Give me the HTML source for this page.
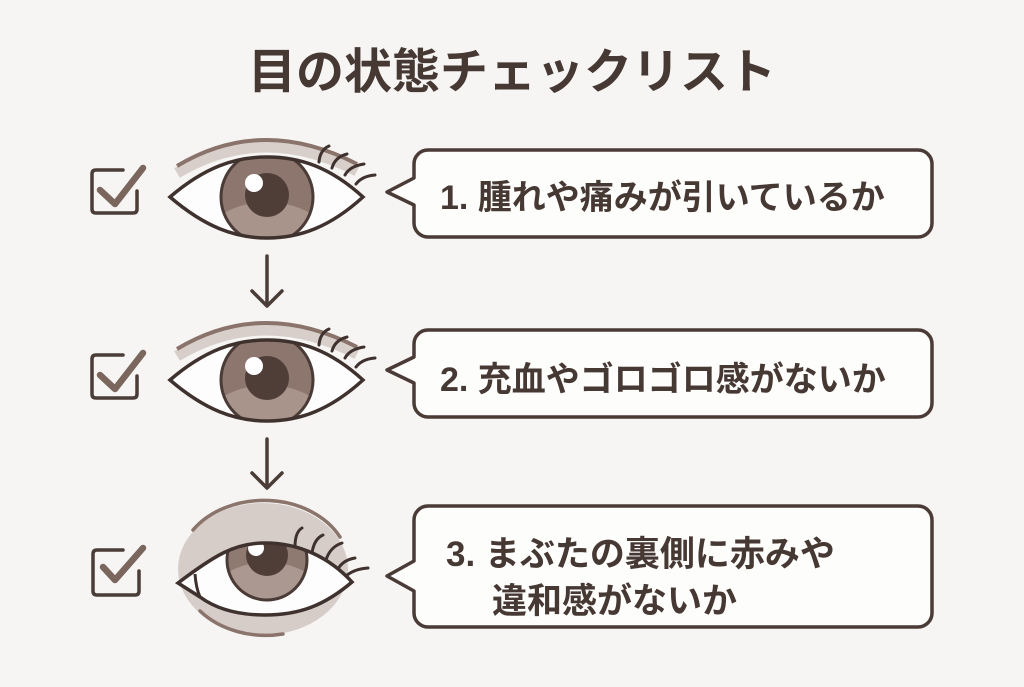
<!DOCTYPE html>
<html>
<head>
<meta charset="utf-8">
<style>
  html,body{margin:0;padding:0;background:#f6f5f3;}
  svg{display:block;}
  text{font-family:"Liberation Sans","Noto Sans CJK JP",sans-serif;font-weight:bold;fill:#463833;}
</style>
</head>
<body>
<svg width="1024" height="687" viewBox="0 0 1024 687" xmlns="http://www.w3.org/2000/svg">
  <defs>
    <clipPath id="alm1">
      <path d="M170,197 C205,167 235,157 267,157 C300,157 330,167 363,197 C330,227 300,238 267,238 C235,238 205,227 170,197 Z"/>
    </clipPath>
    <clipPath id="iris1"><circle cx="267" cy="197" r="46"/></clipPath>
    <clipPath id="alm3">
      <path d="M178,583 C215,555 235,543 265,543 C300,543 330,558 352,582 C325,605 300,615 265,615 C235,615 215,608 200,597 L178,583 Z"/>
    </clipPath>
    <clipPath id="iris3"><circle cx="267" cy="560" r="40"/></clipPath>
    <g id="eyeA">
      <!-- brow band -->
      <path d="M177,173 Q262,122 357,171" fill="none" stroke="#d8cfcb" stroke-width="11"/>
      <path d="M177,166 Q262,115 357,164" fill="none" stroke="#8a736b" stroke-width="4"/>
      <!-- white -->
      <path d="M170,197 C205,167 235,157 267,157 C300,157 330,167 363,197 C330,227 300,238 267,238 C235,238 205,227 170,197 Z" fill="#fdfdfd"/>
      <g clip-path="url(#alm1)">
        <circle cx="267" cy="197" r="46" fill="#8d766e"/>
        <g clip-path="url(#iris1)">
          <circle cx="267" cy="292" r="90" fill="#a9948c"/>
        </g>
        <circle cx="267" cy="197" r="46" fill="none" stroke="#4a3b36" stroke-width="3"/>
        <circle cx="267" cy="195" r="22" fill="#4f3d37"/>
        <circle cx="254" cy="183" r="9" fill="#ffffff"/>
      </g>
      <path d="M170,197 C205,167 235,157 267,157 C300,157 330,167 363,197 C330,227 300,238 267,238 C235,238 205,227 170,197 Z" fill="none" stroke="#3f322e" stroke-width="3.5" stroke-linejoin="miter"/>
      <!-- lashes -->
      <g fill="none" stroke="#3f322e" stroke-width="3" stroke-linecap="round">
        <path d="M319,162 Q320,150 329,146"/>
        <path d="M332,168 Q335,157 347,154"/>
        <path d="M345,175 Q350,166 364,164"/>
        <path d="M356,184 Q362,176 375,175"/>
      </g>
    </g>
  </defs>

  <!-- Title -->
  <text x="512" y="88" text-anchor="middle" font-size="48">目の状態チェックリスト</text>

  <!-- Checkboxes -->
  <g fill="none" stroke="#4a3c37" stroke-width="3.5" stroke-linecap="round" stroke-linejoin="round">
    <path d="M123,170 H96 Q92,170 92,174 V209 Q92,213 96,213 H133 Q137,213 137,209 V191"/>
    <path d="M123,355 H96 Q92,355 92,359 V394 Q92,398 96,398 H133 Q137,398 137,394 V376"/>
    <path d="M123,550 H97 Q93,550 93,554 V591 Q93,595 97,595 H135 Q139,595 139,591 V571"/>
  </g>
  <g fill="none" stroke="#7b665e" stroke-width="6.5" stroke-linecap="round" stroke-linejoin="round">
    <path d="M100,190 L115,204 L143,168"/>
    <path d="M100,375 L115,389 L143,353"/>
    <path d="M103,567 L115,580 L143,548"/>
  </g>

  <!-- Eyes 1 & 2 -->
  <use href="#eyeA"/>
  <use href="#eyeA" transform="translate(0,183)"/>

  <!-- Eye 3 (puffy) -->
  <ellipse cx="263" cy="569" rx="85" ry="66" fill="#d6ccc8"/>
  <path d="M193,530 A85,66 0 0 1 340,537" fill="none" stroke="#8b746c" stroke-width="3.5" stroke-linecap="round"/>
  <path d="M200,611 A85,66 0 0 0 283,634" fill="none" stroke="#8b746c" stroke-width="3.5" stroke-linecap="round"/>
  <path d="M178,583 C215,555 235,543 265,543 C300,543 330,558 352,582 C325,605 300,615 265,615 C235,615 215,608 200,597 L178,583 Z" fill="#fdfdfd"/>
  <g clip-path="url(#alm3)">
    <circle cx="267" cy="560" r="40" fill="#8f7a72"/>
    <g clip-path="url(#iris3)">
      <circle cx="267" cy="640" r="78" fill="#ab9891"/>
    </g>
    <circle cx="267" cy="560" r="40" fill="none" stroke="#4a3b36" stroke-width="3"/>
    <circle cx="267" cy="555" r="21" fill="#4f3d37"/>
    <circle cx="256" cy="548" r="8" fill="#ffffff"/>
  </g>
  <path d="M178,583 C215,555 235,543 265,543 C300,543 330,558 352,582 C325,605 300,615 265,615 C235,615 215,608 200,597 L178,583 Z" fill="none" stroke="#3f322e" stroke-width="3.5"/>
  <path d="M195,574 Q196,588 200,597" fill="none" stroke="#3f322e" stroke-width="3"/>
  <g fill="none" stroke="#3f322e" stroke-width="3" stroke-linecap="round">
    <path d="M295,547 Q295,532 302,528"/>
    <path d="M312,553 Q314,539 323,535"/>
    <path d="M326,560 Q330,547 342,543"/>
    <path d="M338,569 Q343,560 355,558"/>
    <path d="M346,576 Q354,569 368,568"/>
  </g>

  <!-- Arrows -->
  <g fill="none" stroke="#4a3c37" stroke-width="3.5" stroke-linecap="round" stroke-linejoin="round">
    <path d="M267,256 V305"/>
    <path d="M252,291 L267,306 L282,291"/>
    <path d="M267,439 V487"/>
    <path d="M252,473 L267,488 L282,473"/>
  </g>

  <!-- Speech boxes -->
  <g fill="#fdfdfc" stroke="#4a3b36" stroke-width="3.5" stroke-linejoin="round">
    <path d="M428,150 H918 A14,14 0 0 1 932,164 V223 A14,14 0 0 1 918,237 H428 A14,14 0 0 1 414,223 V205 L387,192 L414,178 V164 A14,14 0 0 1 428,150 Z"/>
    <path d="M428,330 H918 A14,14 0 0 1 932,344 V403 A14,14 0 0 1 918,417 H428 A14,14 0 0 1 414,403 V383 L387,370 L414,357 V344 A14,14 0 0 1 428,330 Z"/>
    <path d="M428,506 H918 A14,14 0 0 1 932,520 V613 A14,14 0 0 1 918,627 H428 A14,14 0 0 1 414,613 V591 L387,576 L414,561 V520 A14,14 0 0 1 428,506 Z"/>
  </g>

  <!-- Labels -->
  <text x="440" y="209" font-size="34">1. 腫れや痛みが引いているか</text>
  <text x="440" y="391" font-size="34">2. 充血やゴロゴロ感がないか</text>
  <text x="446" y="566" font-size="35">3. まぶたの裏側に赤みや</text>
  <text x="492" y="613" font-size="35">違和感がないか</text>
</svg>
</body>
</html>
